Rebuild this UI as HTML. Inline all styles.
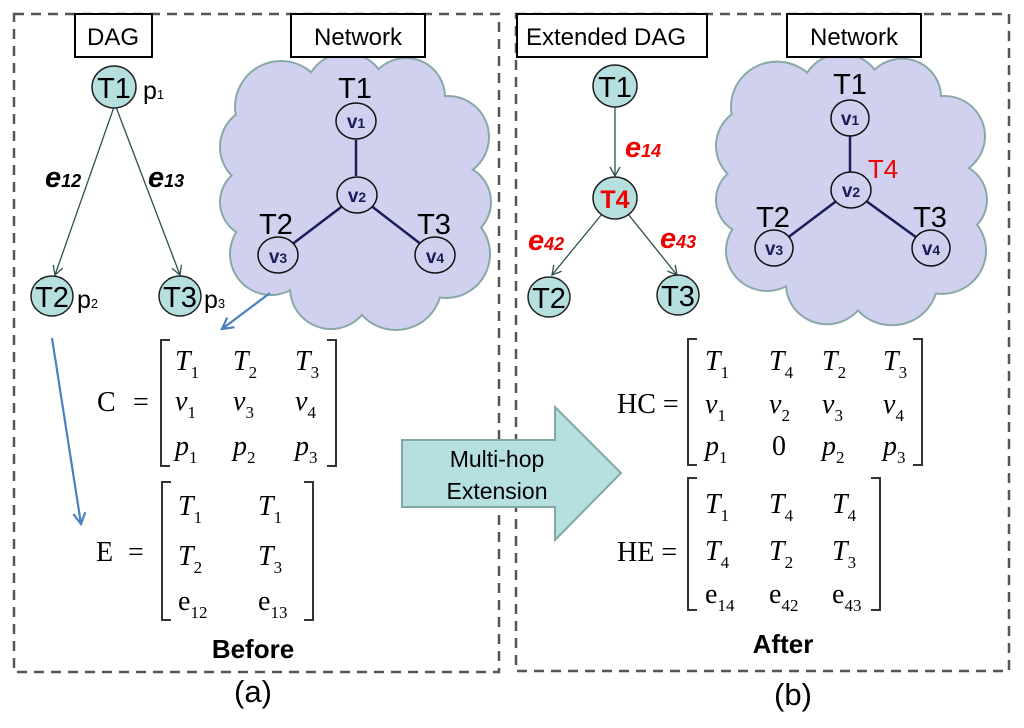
<!DOCTYPE html>
<html><head><meta charset="utf-8"><style>
html,body{margin:0;padding:0;background:#fff}
svg{display:block}
.s{font-family:"Liberation Sans",sans-serif}
.m{font-family:"Liberation Serif",serif;font-size:28px}
.i{font-style:italic}
.sub{font-size:17px;font-style:normal}
</style></head><body>
<svg width="1024" height="728" viewBox="0 0 1024 728" xmlns="http://www.w3.org/2000/svg">
<defs>
<marker id="ah" markerWidth="12" markerHeight="12" refX="10" refY="6" orient="auto" markerUnits="userSpaceOnUse"><path d="M1,1 L10,6 L1,11" fill="none" stroke="#2f5050" stroke-width="1.3"/></marker>
<marker id="bh" markerWidth="14" markerHeight="14" refX="12" refY="7" orient="auto" markerUnits="userSpaceOnUse"><path d="M1,1 L12,7 L1,13" fill="none" stroke="#4a7fc0" stroke-width="2.2"/></marker>
<g id="cloud">
<g fill="#8aa8a8">
<circle cx="-75" cy="-85" r="47"/><circle cx="-10" cy="-98" r="42"/><circle cx="50" cy="-95" r="40"/><circle cx="92" cy="-55" r="42"/><circle cx="97" cy="10" r="39"/><circle cx="90" cy="62" r="45"/><circle cx="40" cy="92" r="47"/><circle cx="-25" cy="96" r="42"/><circle cx="-85" cy="62" r="42"/><circle cx="-100" cy="10" r="37"/><circle cx="-95" cy="-45" r="42"/>
</g>
<g fill="#cfd1ef">
<circle cx="-75" cy="-85" r="45"/><circle cx="-10" cy="-98" r="40"/><circle cx="50" cy="-95" r="38"/><circle cx="92" cy="-55" r="40"/><circle cx="97" cy="10" r="37"/><circle cx="90" cy="62" r="43"/><circle cx="40" cy="92" r="45"/><circle cx="-25" cy="96" r="40"/><circle cx="-85" cy="62" r="40"/><circle cx="-100" cy="10" r="35"/><circle cx="-95" cy="-45" r="40"/><ellipse cx="0" cy="0" rx="110" ry="110"/>
</g>
</g>
</defs>

<rect x="14" y="14" width="485" height="658" fill="none" stroke="#555" stroke-width="2.5" stroke-dasharray="10,7"/>
<rect x="516" y="14" width="493" height="657" fill="none" stroke="#555" stroke-width="2.5" stroke-dasharray="10,7"/>

<!-- LEFT -->
<use href="#cloud" transform="translate(356,192)"/>
<rect x="75" y="14" width="77" height="43" fill="#fff" stroke="#000" stroke-width="2"/>
<text x="113" y="45" class="s" font-size="24" text-anchor="middle">DAG</text>
<rect x="291" y="14" width="134" height="43" fill="#fff" stroke="#000" stroke-width="2"/>
<text x="358" y="45" class="s" font-size="24" text-anchor="middle">Network</text>

<line x1="114" y1="107" x2="55" y2="275" stroke="#2f5050" stroke-width="1.3" marker-end="url(#ah)"/>
<line x1="116" y1="107" x2="180" y2="275" stroke="#2f5050" stroke-width="1.3" marker-end="url(#ah)"/>
<g fill="#b6dfe0" stroke="#222" stroke-width="1.5">
<ellipse cx="114" cy="87" rx="22" ry="21"/>
<ellipse cx="52" cy="296" rx="21" ry="20"/>
<ellipse cx="180" cy="296" rx="21" ry="20"/>
</g>
<g class="s" font-size="29" text-anchor="middle">
<text x="114" y="98">T1</text><text x="52" y="307">T2</text><text x="180" y="307">T3</text>
</g>
<text x="143" y="99" class="s" font-size="25">p<tspan font-size="13">1</tspan></text>
<text x="77" y="308" class="s" font-size="25">p<tspan font-size="13">2</tspan></text>
<text x="204" y="308" class="s" font-size="25">p<tspan font-size="13">3</tspan></text>
<text x="45" y="187" class="s" font-size="29" font-weight="bold" font-style="italic">e<tspan font-size="18">12</tspan></text>
<text x="148" y="187" class="s" font-size="29" font-weight="bold" font-style="italic">e<tspan font-size="18">13</tspan></text>

<g stroke="#1c1c5a" stroke-width="2.5">
<line x1="356" y1="140" x2="356" y2="176"/><line x1="357" y1="195" x2="278" y2="255"/><line x1="357" y1="195" x2="435" y2="255"/>
</g>
<g fill="#cfd1ef" stroke="#111" stroke-width="1.5">
<ellipse cx="356" cy="121" rx="20" ry="18"/><ellipse cx="357" cy="195" rx="20" ry="18"/><ellipse cx="278" cy="255" rx="20" ry="18"/><ellipse cx="435" cy="255" rx="20" ry="18"/>
</g>
<g class="s" font-size="19" fill="#1c1c5a" font-weight="bold" text-anchor="middle">
<text x="356" y="128">v<tspan font-size="14">1</tspan></text><text x="357" y="202">v<tspan font-size="14">2</tspan></text><text x="278" y="263">v<tspan font-size="14">3</tspan></text><text x="435" y="263">v<tspan font-size="14">4</tspan></text>
</g>
<g class="s" font-size="29" text-anchor="middle">
<text x="355" y="98">T1</text><text x="276" y="234">T2</text><text x="434" y="234">T3</text>
</g>

<line x1="270" y1="293" x2="222" y2="329" stroke="#4a7fc0" stroke-width="2.2" marker-end="url(#bh)"/>
<line x1="52" y1="338" x2="81" y2="524" stroke="#4a7fc0" stroke-width="2.2" marker-end="url(#bh)"/>

<g class="m">
<text x="97" y="411">C</text><text x="133" y="411">=</text>
<text x="175" y="370" class="i">T<tspan class="sub" dy="8">1</tspan></text>
<text x="233" y="370" class="i">T<tspan class="sub" dy="8">2</tspan></text>
<text x="295" y="370" class="i">T<tspan class="sub" dy="8">3</tspan></text>
<text x="175" y="410" class="i">v<tspan class="sub" dy="8">1</tspan></text>
<text x="233" y="410" class="i">v<tspan class="sub" dy="8">3</tspan></text>
<text x="295" y="410" class="i">v<tspan class="sub" dy="8">4</tspan></text>
<text x="175" y="455" class="i">p<tspan class="sub" dy="8">1</tspan></text>
<text x="233" y="455" class="i">p<tspan class="sub" dy="8">2</tspan></text>
<text x="295" y="455" class="i">p<tspan class="sub" dy="8">3</tspan></text>
</g>
<path d="M170,340 H161 V466 H170 M327,340 H336 V466 H327" fill="none" stroke="#333" stroke-width="2"/>
<g class="m">
<text x="96" y="561">E</text><text x="128" y="561">=</text>
<text x="178" y="515" class="i">T<tspan class="sub" dy="8">1</tspan></text>
<text x="258" y="515" class="i">T<tspan class="sub" dy="8">1</tspan></text>
<text x="178" y="565" class="i">T<tspan class="sub" dy="8">2</tspan></text>
<text x="258" y="565" class="i">T<tspan class="sub" dy="8">3</tspan></text>
<text x="178" y="610">e<tspan class="sub" dy="8">12</tspan></text>
<text x="258" y="610">e<tspan class="sub" dy="8">13</tspan></text>
</g>
<path d="M171,482 H162 V620 H171 M304,482 H313 V620 H304" fill="none" stroke="#333" stroke-width="2"/>
<text x="253" y="658" class="s" font-size="26" font-weight="bold" text-anchor="middle">Before</text>
<text x="253" y="702" class="s" font-size="31" text-anchor="middle">(a)</text>

<path d="M402,440 H555 V407 L621,473 L555,540 V507 H402 Z" fill="#b6dfe0" stroke="#7fa9a9" stroke-width="2"/>
<text x="497" y="467" class="s" font-size="23" text-anchor="middle">Multi-hop</text>
<text x="497" y="499" class="s" font-size="23" text-anchor="middle">Extension</text>

<!-- RIGHT -->
<use href="#cloud" transform="translate(852,190) scale(1.0,0.98)"/>
<rect x="517" y="14" width="190" height="43" fill="#fff" stroke="#000" stroke-width="2"/>
<text x="606" y="45" class="s" font-size="24" text-anchor="middle">Extended DAG</text>
<rect x="787" y="14" width="134" height="43" fill="#fff" stroke="#000" stroke-width="2"/>
<text x="854" y="45" class="s" font-size="24" text-anchor="middle">Network</text>

<line x1="615" y1="106" x2="615" y2="176" stroke="#2f5050" stroke-width="1.3" marker-end="url(#ah)"/>
<line x1="602" y1="214" x2="552" y2="275" stroke="#2f5050" stroke-width="1.3" marker-end="url(#ah)"/>
<line x1="628" y1="214" x2="677" y2="275" stroke="#2f5050" stroke-width="1.3" marker-end="url(#ah)"/>
<g fill="#b6dfe0" stroke="#222" stroke-width="1.5">
<ellipse cx="615" cy="86" rx="22" ry="21"/>
<ellipse cx="615" cy="198" rx="22" ry="21"/>
<ellipse cx="549" cy="297" rx="21" ry="20"/>
<ellipse cx="678" cy="295" rx="21" ry="20"/>
</g>
<g class="s" font-size="29" text-anchor="middle">
<text x="615" y="97">T1</text><text x="549" y="308">T2</text><text x="678" y="306">T3</text>
</g>
<text x="615" y="208" class="s" font-size="25" font-weight="bold" fill="#e00" text-anchor="middle">T4</text>
<text x="625" y="157" class="s" font-size="29" font-weight="bold" font-style="italic" fill="#e00">e<tspan font-size="18">14</tspan></text>
<text x="528" y="250" class="s" font-size="29" font-weight="bold" font-style="italic" fill="#e00">e<tspan font-size="18">42</tspan></text>
<text x="660" y="248" class="s" font-size="29" font-weight="bold" font-style="italic" fill="#e00">e<tspan font-size="18">43</tspan></text>

<g stroke="#1c1c5a" stroke-width="2.5">
<line x1="850" y1="136" x2="850" y2="172"/><line x1="851" y1="190" x2="774" y2="248"/><line x1="851" y1="190" x2="931" y2="248"/>
</g>
<g fill="#cfd1ef" stroke="#111" stroke-width="1.5">
<ellipse cx="850" cy="118" rx="19" ry="18"/><ellipse cx="851" cy="190" rx="20" ry="18"/><ellipse cx="774" cy="248" rx="19" ry="18"/><ellipse cx="931" cy="248" rx="19" ry="18"/>
</g>
<g class="s" font-size="19" fill="#1c1c5a" font-weight="bold" text-anchor="middle">
<text x="850" y="125">v<tspan font-size="14">1</tspan></text><text x="851" y="197">v<tspan font-size="14">2</tspan></text><text x="774" y="255">v<tspan font-size="14">3</tspan></text><text x="931" y="255">v<tspan font-size="14">4</tspan></text>
</g>
<g class="s" font-size="29" text-anchor="middle">
<text x="850" y="94">T1</text><text x="773" y="227">T2</text><text x="930" y="227">T3</text>
</g>
<text x="883" y="178" class="s" font-size="26" fill="#e00" text-anchor="middle">T4</text>

<g class="m">
<text x="617" y="413">HC =</text>
<text x="705" y="370" class="i">T<tspan class="sub" dy="8">1</tspan></text>
<text x="769" y="370" class="i">T<tspan class="sub" dy="8">4</tspan></text>
<text x="822" y="370" class="i">T<tspan class="sub" dy="8">2</tspan></text>
<text x="883" y="370" class="i">T<tspan class="sub" dy="8">3</tspan></text>
<text x="705" y="413" class="i">v<tspan class="sub" dy="8">1</tspan></text>
<text x="769" y="413" class="i">v<tspan class="sub" dy="8">2</tspan></text>
<text x="822" y="413" class="i">v<tspan class="sub" dy="8">3</tspan></text>
<text x="883" y="413" class="i">v<tspan class="sub" dy="8">4</tspan></text>
<text x="705" y="455" class="i">p<tspan class="sub" dy="8">1</tspan></text>
<text x="772" y="455">0</text>
<text x="822" y="455" class="i">p<tspan class="sub" dy="8">2</tspan></text>
<text x="883" y="455" class="i">p<tspan class="sub" dy="8">3</tspan></text>
</g>
<path d="M697,339 H688 V465 H697 M913,339 H922 V465 H913" fill="none" stroke="#333" stroke-width="2"/>
<g class="m">
<text x="617" y="561">HE =</text>
<text x="705" y="513" class="i">T<tspan class="sub" dy="8">1</tspan></text>
<text x="769" y="513" class="i">T<tspan class="sub" dy="8">4</tspan></text>
<text x="832" y="513" class="i">T<tspan class="sub" dy="8">4</tspan></text>
<text x="705" y="560" class="i">T<tspan class="sub" dy="8">4</tspan></text>
<text x="769" y="560" class="i">T<tspan class="sub" dy="8">2</tspan></text>
<text x="832" y="560" class="i">T<tspan class="sub" dy="8">3</tspan></text>
<text x="705" y="603">e<tspan class="sub" dy="8">14</tspan></text>
<text x="769" y="603">e<tspan class="sub" dy="8">42</tspan></text>
<text x="832" y="603">e<tspan class="sub" dy="8">43</tspan></text>
</g>
<path d="M697,478 H688 V610 H697 M871,478 H880 V610 H871" fill="none" stroke="#333" stroke-width="2"/>
<text x="783" y="653" class="s" font-size="26" font-weight="bold" text-anchor="middle">After</text>
<text x="793" y="705" class="s" font-size="31" text-anchor="middle">(b)</text>
</svg>
</body></html>
